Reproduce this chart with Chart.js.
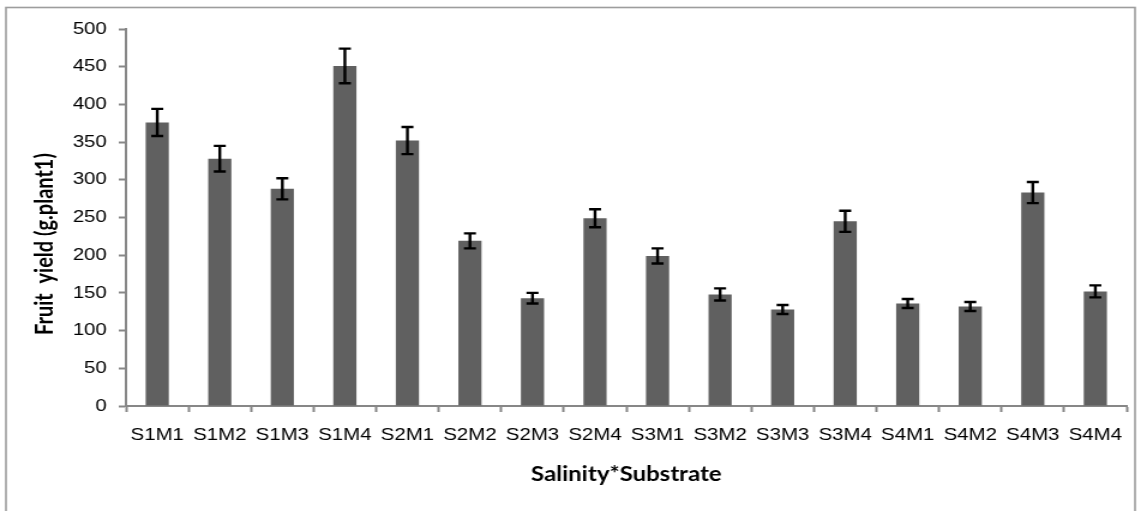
<!DOCTYPE html>
<html><head><meta charset="utf-8">
<script src="https://cdn.jsdelivr.net/npm/chart.js@4"></script>
<style>
html,body{margin:0;padding:0;background:#fff;overflow:hidden}
#wrap{width:951px;height:511px;transform:scale(1.19979,1);transform-origin:0 0;}
</style></head><body>
<div id="wrap"><canvas id="c"></canvas></div>
<script>
const categories = ['S1M1','S1M2','S1M3','S1M4','S2M1','S2M2','S2M3','S2M4','S3M1','S3M2','S3M3','S3M4','S4M1','S4M2','S4M3','S4M4'];
const yieldValues = [376, 328, 288, 451, 352, 219, 143, 249, 199, 148, 128, 245, 136, 132, 283, 152];
const errorValues = [18, 17, 14, 23, 18, 10, 7, 12, 10, 8, 6, 14, 6, 6, 14, 8];
const yTicks = [0, 50, 100, 150, 200, 250, 300, 350, 400, 450, 500];
const yTitle = 'Fruit  yield (g.plant1)';
const xTitle = 'Salinity*Substrate';

const axisGray = '#878787';
const tickFont = {family: '"Liberation Sans", Arial, sans-serif', size: 17};
const titleFont = {family: 'Lato, "Open Sans", sans-serif', weight: 'bold', size: 20};

const frame = {
  id: 'frame',
  beforeDraw(chart) {
    const ctx = chart.ctx;
    ctx.save();
    ctx.fillStyle = '#fff';
    ctx.fillRect(0, 0, chart.width, chart.height);
    ctx.strokeStyle = '#9d9d9d';
    ctx.lineWidth = 1.6;
    ctx.strokeRect(5, 7.5, 941, 520);
    ctx.restore();
  }
};

const errorBars = {
  id: 'errorBars',
  afterDatasetsDraw(chart) {
    const ctx = chart.ctx;
    const y = chart.scales.y;
    const meta = chart.getDatasetMeta(0);
    ctx.save();
    ctx.strokeStyle = '#000';
    ctx.lineWidth = 2.4;
    meta.data.forEach((bar, i) => {
      const v = yieldValues[i], e = errorValues[i];
      const yt = y.getPixelForValue(v + e);
      const yb = y.getPixelForValue(v - e);
      const x = bar.x;
      ctx.beginPath();
      ctx.moveTo(x, yt); ctx.lineTo(x, yb);
      ctx.moveTo(x - 5, yt); ctx.lineTo(x + 5, yt);
      ctx.moveTo(x - 5, yb); ctx.lineTo(x + 5, yb);
      ctx.stroke();
    });
    ctx.restore();
  }
};

const yAxisTitle = {
  id: 'yAxisTitle',
  afterDraw(chart) {
    const ctx = chart.ctx;
    ctx.save();
    ctx.translate(38, 244);
    ctx.rotate(-Math.PI / 2);
    ctx.font = `bold ${titleFont.size}px ${titleFont.family}`;
    ctx.fillStyle = '#000';
    ctx.textAlign = 'center';
    ctx.textBaseline = 'middle';
    ctx.fillText(yTitle, 0, 0);
    ctx.restore();
  }
};

new Chart(document.getElementById('c'), {
  type: 'bar',
  data: {
    labels: categories,
    datasets: [{
      data: yieldValues,
      backgroundColor: '#606060',
      borderWidth: 0,
      barPercentage: 0.37,
      categoryPercentage: 1.0
    }]
  },
  options: {
    responsive: true,
    maintainAspectRatio: false,
    animation: false,
    layout: {padding: {left: 0, right: 12, top: 29, bottom: 0}},
    plugins: {legend: {display: false}, tooltip: {enabled: false}},
    scales: {
      x: {
        grid: {display: true, drawOnChartArea: false, drawTicks: true, tickLength: 6, tickColor: axisGray, tickWidth: 2, offset: true},
        border: {display: true, color: axisGray, width: 2},
        ticks: {color: '#000', font: tickFont, padding: 13, maxRotation: 0, autoSkip: false},
        title: {display: true, text: xTitle, color: '#000', font: titleFont, padding: {top: 0, bottom: 24}},
        afterFit(s) { s.height = 105; }
      },
      y: {
        min: 0, max: 500,
        afterBuildTicks(s) { s.ticks = yTicks.map(v => ({value: v})); },
        grid: {display: true, drawOnChartArea: false, drawTicks: true, tickLength: 6, tickColor: axisGray, tickWidth: 2},
        border: {display: true, color: axisGray, width: 2},
        ticks: {color: '#000', font: tickFont, padding: 10},
        afterFit(s) { s.width = 105; }
      }
    }
  },
  plugins: [frame, errorBars, yAxisTitle]
});
</script>
</body></html>
